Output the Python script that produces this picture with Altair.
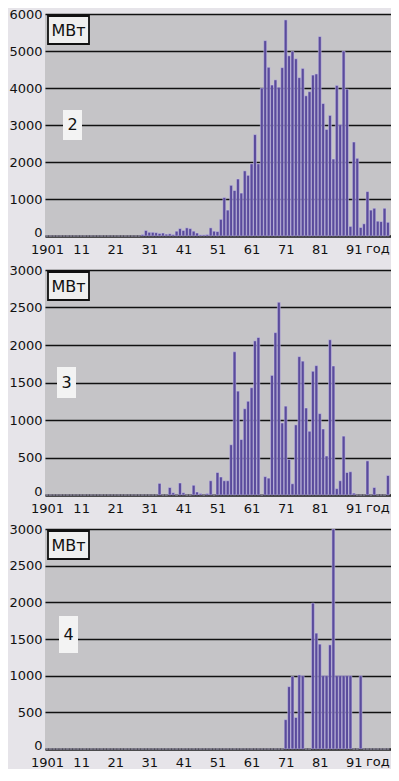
import altair as alt
import pandas as pd

years = list(range(1901, 2002))

# Panel "2" (MW per year, 1901..2001)
p2_values = (
    [0] * 10 +                                                       # 1901-1910
    [0] * 10 +                                                       # 1911-1920
    [0] * 8 + [40, 150] +                                            # 1921-1930
    [100, 100, 90, 70, 80, 50, 60, 40, 130, 200] +                   # 1931-1940
    [150, 220, 200, 130, 80, 30, 30, 40, 220, 130] +                 # 1941-1950
    [120, 450, 1040, 700, 1370, 1230, 1540, 1160, 1760, 1640] +      # 1951-1960
    [1950, 2740, 1950, 4000, 5280, 4560, 4080, 4220, 4020, 4550] +   # 1961-1970
    [5840, 4870, 4990, 4790, 4280, 4530, 3790, 3900, 4350, 4380] +   # 1971-1980
    [5390, 3580, 2880, 3260, 2080, 4070, 3010, 5000, 3970, 260] +    # 1981-1990
    [2540, 2100, 230, 330, 1200, 700, 750, 400, 390, 750] +          # 1991-2000
    [370]                                                            # 2001
)

# Panel "3"
p3_values = (
    [0] * 30 +                                                       # 1901-1930
    [0, 0, 0, 155, 0, 0, 100, 30, 0, 160] +                          # 1931-1940
    [30, 0, 0, 130, 40, 20, 0, 20, 190, 0] +                         # 1941-1950
    [300, 240, 190, 190, 670, 1910, 1385, 740, 1150, 1250] +         # 1951-1960
    [1430, 2055, 2100, 0, 245, 225, 1595, 2165, 2570, 960] +         # 1961-1970
    [1185, 475, 150, 935, 1845, 1785, 1160, 850, 1650, 1725] +       # 1971-1980
    [1085, 880, 520, 2070, 1720, 85, 190, 785, 300, 310] +           # 1981-1990
    [25, 0, 0, 0, 455, 0, 100, 0, 0, 0] +                            # 1991-2000
    [260]                                                            # 2001
)

# Panel "4"
p4_values = (
    [0] * 70 +                                                       # 1901-1970
    [400, 850, 990, 430, 1010, 1000, 0, 0, 1990, 1580] +             # 1971-1980
    [1430, 1000, 1000, 1420, 3000, 1000, 1000, 1000, 1000, 1000] +   # 1981-1990
    [0, 0, 1000, 0, 0, 0, 0, 0, 0, 0] +                              # 1991-2000
    [0]                                                              # 2001
)

tick_years = [1901, 1911, 1921, 1931, 1941, 1951, 1961, 1971, 1981, 1991]
unit_label = "МВт"
axis_word = "годы"

FONT = "DejaVu Sans"
W = 346
XMIN, XMAX = 1900.4, 2001.9
BAR_FILL = "#5a4b9c"
BAR_STROKE = "#cdc7ea"

ann = pd.DataFrame({"k": [0]})


def panel(values, ymax, ystep, h, number, num_box, label_pad):
    df = pd.DataFrame({"year": years, "mw": values})
    xs = alt.Scale(domain=[XMIN, XMAX], nice=False, zero=False)
    bars = alt.Chart(df).transform_calculate(
        x0="datum.year - 0.43", x1="datum.year + 0.43"
    ).mark_bar(fill=BAR_FILL, stroke=BAR_STROKE, strokeWidth=0.5).encode(
        x=alt.X("x0:Q", scale=xs, title=None,
                axis=alt.Axis(values=tick_years, grid=False, ticks=False,
                              domain=True, domainColor="#2a2a2a", domainWidth=2.5,
                              labelPadding=label_pad, labelFont=FONT, labelFontSize=13,
                              labelColor="#111", labelFlush=False, labelOverlap=False,
                              labelExpr="datum.value == 1901 ? '1901' : '' + (datum.value - 1900)")),
        x2="x1:Q",
        y=alt.Y("mw:Q", scale=alt.Scale(domain=[0, ymax], nice=False), title=None,
                axis=alt.Axis(values=list(range(0, ymax + 1, ystep)), grid=True, format="d",
                              gridColor="#111", gridWidth=1.5, domain=False, ticks=False,
                              labelPadding=3, labelFont=FONT, labelFontSize=13,
                              labelColor="#111",
                              labelBaseline={"condition": {"test": "datum.value == 0",
                                                           "value": "alphabetic"},
                                             "value": "middle"})),
        y2=alt.datum(0),
    )
    unit_box = alt.Chart(ann).mark_rect(fill="#efefef", stroke="#111", strokeWidth=1.8).encode(
        x=alt.value(3), x2=alt.value(44), y=alt.value(2), y2=alt.value(30))
    unit_text = alt.Chart(ann).mark_text(text=unit_label, font=FONT, fontSize=16, color="#111",
                                         align="center", baseline="middle").encode(
        x=alt.value(23.5), y=alt.value(16.5))
    bx0, bx1, by0, by1 = num_box
    n_box = alt.Chart(ann).mark_rect(fill="#f3f3f3").encode(
        x=alt.value(bx0), x2=alt.value(bx1), y=alt.value(by0), y2=alt.value(by1))
    n_text = alt.Chart(ann).mark_text(text=number, font=FONT, fontSize=16, color="#111",
                                      align="center", baseline="middle").encode(
        x=alt.value((bx0 + bx1) / 2), y=alt.value((by0 + by1) / 2))
    word = alt.Chart(ann).mark_text(text=axis_word, font=FONT, fontSize=13, color="#111",
                                    align="left", baseline="top", limit=27,
                                    ellipsis="\u200b").encode(
        x=alt.value(321), y=alt.value(h + label_pad))
    return alt.layer(bars, unit_box, unit_text, n_box, n_text, word).properties(width=W, height=h)


c1 = panel(p2_values, 6000, 1000, 222, "2", (18, 37, 96, 126), 7)
c2 = panel(p3_values, 3000, 500, 225, "3", (12, 31, 97, 128), 7)
c3 = panel(p4_values, 3000, 500, 220, "4", (14, 33, 87, 124), 7)

chart = alt.vconcat(c1, c2, c3, spacing=8).properties(
    padding=0
).configure(
    background="#e6e4e9"
).configure_view(
    fill="#c5c4c7", strokeWidth=0
).configure_axisX(
    labelOverlap=False, labelFlush=False
)

chart.save("out.html", embed_options={"renderer": "svg", "actions": False})
